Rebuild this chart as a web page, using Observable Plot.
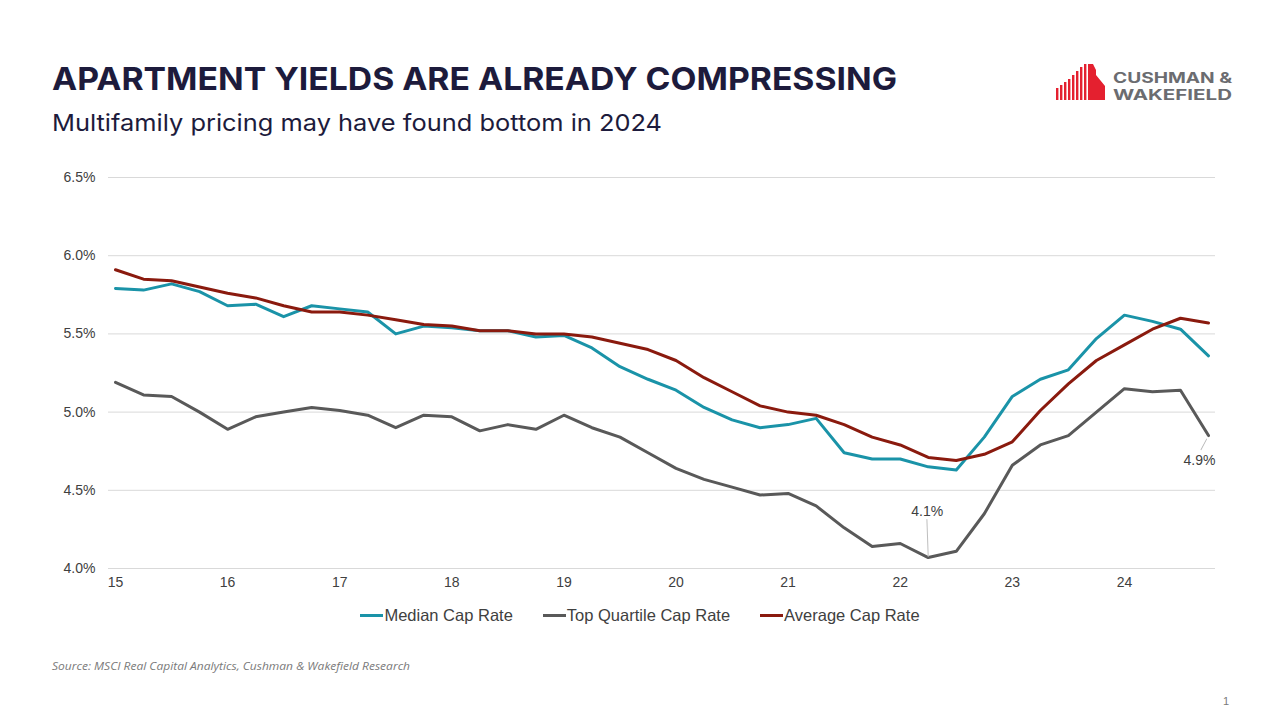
<!DOCTYPE html>
<html>
<head>
<meta charset="utf-8">
<script src="https://cdn.jsdelivr.net/npm/d3@7"></script>
<script src="https://cdn.jsdelivr.net/npm/@observablehq/plot@0.6"></script>
<style>
  html, body { margin: 0; padding: 0; background: #fff; }
  #page { position: relative; width: 1280px; height: 720px; overflow: hidden; background: #fff; }
  #chart { position: absolute; left: 0; top: 160px; }
  #legend { position: absolute; left: 0; top: 606px; width: 1280px; display: flex; justify-content: center; gap: 30px;
            font-family: "Liberation Sans", Arial, sans-serif; font-size: 16.5px; color: #404040; }
  #legend .item { display: flex; align-items: center; }
  #legend .sw { display: inline-block; width: 23px; height: 3px; margin-right: 1px; }
  #overlay { position: absolute; left: 0; top: 0; }
</style>
</head>
<body>
<div id="page">
  <svg id="overlay" width="1280" height="720"></svg>
  <div id="chart"></div>
  <div id="legend"></div>
</div>
<script>
// ---- Data ----
const quarters = [
  "2015Q1","2015Q2","2015Q3","2015Q4","2016Q1","2016Q2","2016Q3","2016Q4",
  "2017Q1","2017Q2","2017Q3","2017Q4","2018Q1","2018Q2","2018Q3","2018Q4",
  "2019Q1","2019Q2","2019Q3","2019Q4","2020Q1","2020Q2","2020Q3","2020Q4",
  "2021Q1","2021Q2","2021Q3","2021Q4","2022Q1","2022Q2","2022Q3","2022Q4",
  "2023Q1","2023Q2","2023Q3","2023Q4","2024Q1","2024Q2","2024Q3","2024Q4"
];
const medianCapRate = [
  5.79,5.78,5.82,5.77,5.68,5.69,5.61,5.68,
  5.66,5.64,5.50,5.55,5.54,5.52,5.52,5.48,
  5.49,5.41,5.29,5.21,5.14,5.03,4.95,4.90,
  4.92,4.96,4.74,4.70,4.70,4.65,4.63,4.84,
  5.10,5.21,5.27,5.47,5.62,5.58,5.53,5.36
];
const topQuartileCapRate = [
  5.19,5.11,5.10,5.00,4.89,4.97,5.00,5.03,
  5.01,4.98,4.90,4.98,4.97,4.88,4.92,4.89,
  4.98,4.90,4.84,4.74,4.64,4.57,4.52,4.47,
  4.48,4.40,4.26,4.14,4.16,4.07,4.11,4.35,
  4.66,4.79,4.85,5.00,5.15,5.13,5.14,4.85
];
const averageCapRate = [
  5.91,5.85,5.84,5.80,5.76,5.73,5.68,5.64,
  5.64,5.62,5.59,5.56,5.55,5.52,5.52,5.50,
  5.50,5.48,5.44,5.40,5.33,5.22,5.13,5.04,
  5.00,4.98,4.92,4.84,4.79,4.71,4.69,4.73,
  4.81,5.01,5.18,5.33,5.43,5.53,5.60,5.57
];
const seriesNames = ["Median Cap Rate", "Top Quartile Cap Rate", "Average Cap Rate"];
const seriesColors = ["#1a93a8", "#595959", "#8a1a0e"];
const xTickValues = [15,16,17,18,19,20,21,22,23,24];
const xTickLabels = ["15","16","17","18","19","20","21","22","23","24"];
const yTickValues = [4.0,4.5,5.0,5.5,6.0,6.5];
const yTickLabels = ["4.0%","4.5%","5.0%","5.5%","6.0%","6.5%"];
// annotations on the Top Quartile series
const annotationQuarters = ["2022Q2", "2024Q4"];
const annotationLabels = ["4.1%", "4.9%"];

// ---- Build tidy table ----
const qToX = q => (+q.slice(2,4)) + (+q.slice(5) - 1) / 4;
const seriesValues = [medianCapRate, topQuartileCapRate, averageCapRate];
const rows = [];
seriesNames.forEach((name, s) => {
  quarters.forEach((q, i) => rows.push({series: name, quarter: q, x: qToX(q), value: seriesValues[s][i]}));
});
const ann = annotationQuarters.map((q, k) => {
  const i = quarters.indexOf(q);
  return {x: qToX(q), value: topQuartileCapRate[i], label: annotationLabels[k]};
});

const leader = (gap) => ({
  draw(context, l) { context.moveTo(0, -gap); context.lineTo(0, -l); }
});

const chart = Plot.plot({
  width: 1280,
  height: 440,
  marginLeft: 108,
  marginRight: 65,
  marginTop: 17,
  marginBottom: 32,
  style: {fontFamily: "'Liberation Sans', Arial, sans-serif", fontSize: "14px", color: "#404040", background: "transparent"},
  x: {domain: [15, 24.75], range: [115, 1208], label: null},
  y: {domain: [4, 6.5], label: null},
  color: {domain: seriesNames, range: seriesColors},
  marks: [
    Plot.gridY(yTickValues, {stroke: "#d9d9d9", strokeOpacity: 1, strokeWidth: 1}),
    Plot.axisY(yTickValues, {label: null, tickSize: 0, tickPadding: 13, tickFormat: d => yTickLabels[yTickValues.indexOf(d)], fontSize: 14, fill: "#404040"}),
    Plot.axisX(xTickValues, {label: null, tickSize: 0, tickPadding: 9, tickFormat: d => xTickLabels[xTickValues.indexOf(d)], fontSize: 14, fill: "#404040"}),
    Plot.line(rows, {x: "x", y: "value", z: "series", stroke: "series", strokeWidth: 3, curve: "linear", strokeLinejoin: "round"}),
    Plot.vector([ann[0]], {x: "x", y: "value", length: 38, rotate: -2, anchor: "start", stroke: "#b8b8b8", strokeWidth: 0.9, shape: leader(1)}),
    Plot.vector([ann[1]], {x: "x", y: "value", length: 16, rotate: 208, anchor: "start", stroke: "#b8b8b8", strokeWidth: 0.9, shape: leader(4)}),
    Plot.text([ann[0]], {x: "x", y: "value", text: "label", dy: -46, dx: -1, fontSize: 14, fill: "#404040"}),
    Plot.text([ann[1]], {x: "x", y: "value", text: "label", dy: 25, dx: -9, fontSize: 14, fill: "#404040"})
  ]
});
document.getElementById("chart").appendChild(chart);

// ---- Legend ----
const legend = d3.select("#legend");
seriesNames.forEach((n, i) => {
  const it = legend.append("div").attr("class", "item");
  it.append("span").attr("class", "sw").style("background", seriesColors[i]);
  it.append("span").text(n);
});

// ---- Header / footer text + logo ----
const ov = d3.select("#overlay");
const navy = "#1d1b3c";
ov.append("text").attr("x", 52).attr("y", 90)
  .attr("font-family", "Inter, 'DejaVu Sans', sans-serif").attr("font-weight", 700).attr("font-size", 31.5)
  .attr("fill", navy).attr("textLength", 845).attr("lengthAdjust", "spacingAndGlyphs")
  .text("APARTMENT YIELDS ARE ALREADY COMPRESSING");
ov.append("text").attr("x", 52).attr("y", 131)
  .attr("font-family", "Inter, 'Open Sans', sans-serif").attr("font-weight", 400).attr("font-size", 23.5)
  .attr("fill", navy).attr("textLength", 610).attr("lengthAdjust", "spacingAndGlyphs")
  .text("Multifamily pricing may have found bottom in 2024");
ov.append("text").attr("x", 52).attr("y", 670)
  .attr("font-family", "'Open Sans', Inter, sans-serif").attr("font-style", "italic").attr("font-size", 11)
  .attr("fill", "#7a7a7a").attr("textLength", 358).attr("lengthAdjust", "spacingAndGlyphs")
  .text("Source: MSCI Real Capital Analytics, Cushman & Wakefield Research");
ov.append("text").attr("x", 1229).attr("y", 705).attr("text-anchor", "end")
  .attr("font-family", "'Liberation Sans', Arial, sans-serif").attr("font-size", 11).attr("fill", "#7a7a7a")
  .text("1");

// logo
const red = "#e4202f";
const g = ov.append("g");
const barX = [1056, 1060, 1064, 1068, 1072, 1076, 1080, 1084];
const barTop = [88, 85, 82, 79, 75, 71, 67, 64];
barX.forEach((bx, i) => g.append("rect").attr("x", bx).attr("y", barTop[i]).attr("width", 2.4).attr("height", 100 - barTop[i]).attr("fill", red));
g.append("path").attr("d", "M1088,64 L1093,64 L1096,70 L1096,75 L1105,86 L1105,100 L1088,100 Z").attr("fill", red);
ov.append("text").attr("x", 1113).attr("y", 82.5)
  .attr("font-family", "Inter, 'DejaVu Sans', sans-serif").attr("font-weight", 700).attr("font-size", 14)
  .attr("fill", "#6b6c70").attr("textLength", 119).attr("lengthAdjust", "spacingAndGlyphs").text("CUSHMAN &");
ov.append("text").attr("x", 1113).attr("y", 99.5)
  .attr("font-family", "Inter, 'DejaVu Sans', sans-serif").attr("font-weight", 700).attr("font-size", 14)
  .attr("fill", "#6b6c70").attr("textLength", 119).attr("lengthAdjust", "spacingAndGlyphs").text("WAKEFIELD");
</script>
</body>
</html>
